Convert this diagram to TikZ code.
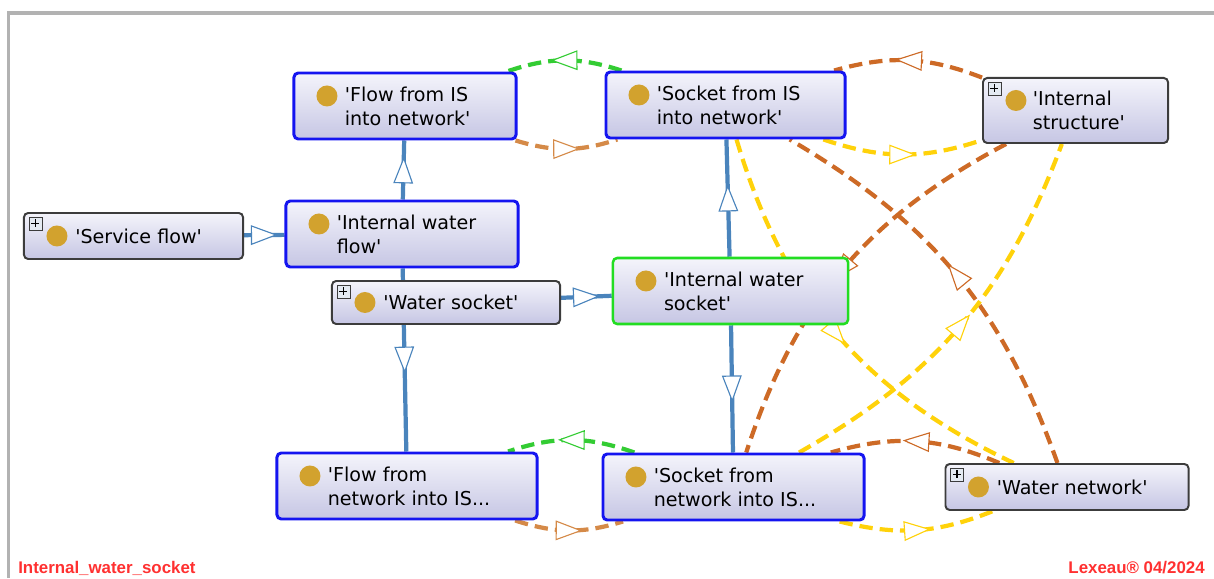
\documentclass[tikz,border=0pt]{standalone}
\usepackage{fontspec}
\newfontfamily\nodefont{DejaVu Sans}
\newfontfamily\tagfont{Liberation Sans}
\usepackage{tikz}
\usetikzlibrary{arrows.meta,backgrounds,decorations.markings}
\definecolor{BoxTop}{HTML}{F4F4FB}
\definecolor{BoxBot}{HTML}{C6C6E4}
\definecolor{OntoBlue}{HTML}{1414F0}
\definecolor{OntoGrey}{HTML}{3C3C3C}
\definecolor{OntoGreen}{HTML}{22DD22}
\definecolor{DotGold}{HTML}{D2A22E}
\definecolor{IsaBlue}{HTML}{4A84BC}
\definecolor{RelGreen}{HTML}{33CC33}
\definecolor{RelTan}{HTML}{D58A48}
\definecolor{RelRust}{HTML}{CD6A26}
\definecolor{RelGold}{HTML}{FFD20A}
\definecolor{FrameGrey}{HTML}{B2B2B2}
\definecolor{TagRed}{HTML}{FF3030}
\definecolor{PlusFill}{HTML}{E4EAF2}
\tikzset{
  boxbase/.style={rectangle,rounded corners=3pt,top color=BoxTop,bottom color=BoxBot,inner sep=0pt},
  ownbox/.style={boxbase,draw=OntoBlue,line width=2.1pt},
  defbox/.style={boxbase,draw=OntoGrey,line width=1.4pt},
  focusbox/.style={boxbase,draw=OntoGreen,line width=1.8pt},
  dotat/.style={path picture={\fill[DotGold] ([shift={(33,#1)}]path picture bounding box.west) circle (10.5);}},
  dotplus/.style={path picture={
      \fill[DotGold] ([shift={(33,#1)}]path picture bounding box.west) circle (10.5);
      \draw[sharp corners,OntoGrey,fill=PlusFill,line width=0.6pt] ([shift={(5,-4)}]path picture bounding box.north west) rectangle +(13,-13);
      \draw[sharp corners,black,line width=1pt] ([shift={(11.5,-6.5)}]path picture bounding box.north west) -- +(0,-8)
        ([shift={(7.5,-10.5)}]path picture bounding box.north west) -- +(8,0);}},
  lbl/.style={anchor=west,xshift=1.3cm,inner sep=0pt,align=left,font=\nodefont\fontsize{13.6pt}{17pt}\selectfont},
  midtri/.style={postaction={decorate},decoration={markings,mark=at position 0.5 with {\arrow[xshift=9.5pt]{Triangle[length=19pt,width=14pt,line width=0.8pt,fill=white]}}}},
  isa/.style={draw=IsaBlue,line width=3pt,midtri},
  rel/.style={line width=3pt,dash pattern=on 9.5pt off 5pt,midtri},
  footer/.style={text=TagRed,inner sep=0pt,font=\tagfont\bfseries\fontsize{12pt}{14pt}\selectfont},
}

\begin{document}
\begin{tikzpicture}[x=0.025cm,y=0.025cm]
  \useasboundingbox (0,0) rectangle (1214,578);
  \draw[FrameGrey,line width=2.2pt] (8.5,0) -- (8.5,565) -- (1214,565);

  % classes
  \node[ownbox,dotat=10,minimum width=5.55cm,minimum height=1.65cm,
    label={[lbl]west:{'Flow from IS\\into network'}}] (flowis) at (405,472) {};
  \node[ownbox,dotat=10,minimum width=5.975cm,minimum height=1.65cm,
    label={[lbl]west:{'Socket from IS\\into network'}}] (sockis) at (725.5,473) {};
  \node[defbox,dotplus=10,minimum width=4.625cm,minimum height=1.625cm,
    label={[lbl,xshift=-1pt]west:{'Internal\\structure'}}] (intstruct) at (1075.5,467.5) {};
  \node[defbox,dotplus=0,minimum width=5.475cm,minimum height=1.15cm,
    label={[lbl]west:{'Service flow'}}] (servflow) at (133.5,342) {};
  \node[ownbox,dotat=10,minimum width=5.8cm,minimum height=1.65cm,
    label={[lbl]west:{'Internal water\\flow'}}] (intflow) at (402,344) {};
  \node[defbox,dotplus=0,minimum width=5.7cm,minimum height=1.075cm,
    label={[lbl]west:{'Water socket'}}] (watsock) at (446,275.5) {};
  \node[focusbox,dotat=10,minimum width=5.875cm,minimum height=1.65cm,
    label={[lbl]west:{'Internal water\\socket'}}] (intsock) at (730.5,287) {};
  \node[ownbox,dotat=10,minimum width=6.5cm,minimum height=1.65cm,
    label={[lbl]west:{'Flow from\\network into IS...}}] (flownet) at (407,92) {};
  \node[ownbox,dotat=10,minimum width=6.525cm,minimum height=1.65cm,
    label={[lbl]west:{'Socket from\\network into IS...}}] (socknet) at (733.5,91) {};
  \node[defbox,dotplus=0,minimum width=6.075cm,minimum height=1.15cm,
    label={[lbl]west:{'Water network'}}] (watnet) at (1067,91) {};

  \node[footer,anchor=base west] (diagname) at (18,5) {Internal\_water\_socket};
  \node[footer,anchor=base east] (stamp) at (1205,5) {Lexeau® 04/2024};

  \begin{scope}[on background layer]
    % subclass links
    \draw[isa] (intflow) -- (flowis);
    \draw[isa] (servflow) -- (intflow);
    \draw[isa] (intflow) -- (flownet);
    \draw[isa] (watsock) -- (intsock);
    \draw[isa] (intsock) -- (sockis);
    \draw[isa] (intsock) -- (socknet);
    % properties
    \draw[rel,draw=RelGreen] (sockis) to[bend right=18.5] (flowis);
    \draw[rel,draw=RelTan] (flowis) to[bend right=17.5] (sockis);
    \draw[rel,draw=RelRust] (intstruct) to[bend right=18.5] (sockis);
    \draw[rel,draw=RelGold] (sockis) to[bend right=18.5] (intstruct);
    \draw[rel,draw=RelGreen] (socknet) to[bend right=19] (flownet);
    \draw[rel,draw=RelTan] (flownet) to[bend right=17.5] (socknet);
    \draw[rel,draw=RelRust] (watnet) to[bend right=19.5] (socknet);
    \draw[rel,draw=RelGold] (socknet) to[bend right=18] (watnet);
    \draw[rel,draw=RelRust] (intstruct) to[bend right=22] (socknet);
    \draw[rel,draw=RelGold] (sockis) to[bend right=24] (watnet);
    \draw[rel,draw=RelRust] (watnet) to[bend right=20] (sockis);
    \draw[rel,draw=RelGold] (socknet) to[bend right=20] (intstruct);
  \end{scope}
\end{tikzpicture}
\end{document}
